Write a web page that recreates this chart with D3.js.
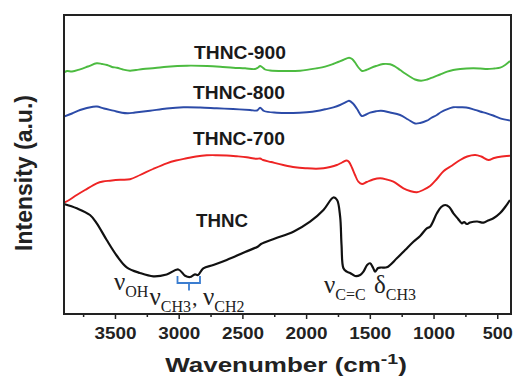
<!DOCTYPE html>
<html><head><meta charset="utf-8">
<script src="https://cdn.jsdelivr.net/npm/d3@7"></script>
<style>body{margin:0;background:#fff}svg{display:block}</style>
</head><body>
<svg id="c" width="515" height="376"></svg>
<script>
// [wavenumber (cm-1), intensity (a.u.)]
const thnc = [[3900,110],[3800,105.7],[3696,99],[3643,90.7],[3565,74],[3484,58],[3408,46.7],[3303,41],[3199,37.7],[3094,39.5],[3003,44.5],[2950,38.3],[2911,37],[2872,39.7],[2848,39],[2807,45.7],[2728,49],[2623,54],[2479,62],[2377,67.5],[2354,70],[2244,75.5],[2100,82.3],[1969,92.3],[1864,104],[1786,116.5],[1757,114],[1733,97.3],[1722,69],[1707,45.7],[1681,42.3],[1655,41],[1616,38],[1576,39],[1550,42.3],[1521,49],[1498,50.7],[1474,46],[1459,42.3],[1435,46],[1412,46.5],[1367,46.7],[1288,55.7],[1223,64],[1158,72.3],[1105,78],[1053,85.7],[1027,87.3],[974,100.7],[940,107],[909,109],[877,107],[844,100.7],[807,95],[778,90.7],[760,92],[739,90],[713,91.5],[658,92.5],[608,91.3],[572,93.5],[530,95.7],[477,101],[438,107],[400,114]];
const thnc700 = [[3900,111.3],[3853,114.5],[3800,119],[3735,124],[3643,130.7],[3594,132.5],[3539,133.3],[3460,134.2],[3382,134.7],[3303,139],[3201,145],[3094,150.7],[3021,153.5],[2937,155.7],[2864,157.5],[2780,158.7],[2701,158.8],[2623,158.5],[2544,157.7],[2466,156.7],[2393,155.2],[2361,155.5],[2338,154],[2275,152],[2179,149],[2087,146.7],[1995,145.7],[1922,145.3],[1864,145.7],[1812,147],[1759,149],[1718,151.5],[1681,153.5],[1663,152],[1639,146],[1616,139],[1590,132.3],[1561,130],[1524,132],[1475,134.5],[1419,135.7],[1367,134.5],[1315,132.3],[1236,125.7],[1184,123],[1131,121.7],[1082,124],[1027,128],[974,135],[922,142.8],[854,148.5],[791,154],[736,157.5],[673,159],[626,157.5],[569,154],[524,156],[477,157.3],[400,158.3]];
const thnc800 = [[3900,197.3],[3837,200.5],[3774,204],[3672,207.3],[3641,207.5],[3586,205.5],[3513,203.3],[3445,201.2],[3398,200.7],[3343,201.5],[3225,203.3],[3094,205.5],[2963,206.7],[2832,206.5],[2701,205.7],[2573,205],[2440,204],[2385,203.5],[2361,206.3],[2330,203],[2230,201.3],[2102,201],[1995,201.8],[1916,203],[1851,204.7],[1786,206.7],[1734,209],[1681,212.3],[1663,213.3],[1632,210.5],[1600,205],[1563,198],[1529,199.5],[1498,201.3],[1451,202.7],[1412,203.2],[1341,201.5],[1262,199],[1200,194.5],[1145,190.5],[1105,191],[1053,193.3],[1019,196],[974,199],[940,202],[896,204.7],[846,206.8],[791,206.7],[744,206.5],[687,204.7],[635,202.5],[582,200.7],[532,198.5],[477,195.7],[400,193.5]];
const thnc900 = [[3900,241.5],[3876,243],[3837,242.5],[3774,244.7],[3712,247.5],[3643,250.7],[3602,250],[3562,249],[3523,247],[3484,246.3],[3437,244.5],[3382,243.3],[3335,244],[3280,245],[3186,246],[3091,247.3],[2934,248.3],[2777,248],[2675,247.3],[2573,246.3],[2479,245.7],[2401,245],[2377,246.5],[2361,248],[2346,247],[2322,244.5],[2283,243.5],[2181,243],[2047,243.3],[1914,245.7],[1851,247.3],[1788,250],[1749,252],[1710,254],[1663,256.3],[1639,255],[1616,251.5],[1592,247],[1561,243],[1529,244],[1498,245.7],[1451,248],[1396,250],[1341,249.7],[1302,247.5],[1262,244],[1223,240.5],[1184,237.3],[1145,234.5],[1098,233.3],[1050,234.5],[1004,236.7],[949,239.5],[893,242.3],[846,244],[791,245],[690,245.7],[635,245.5],[579,245],[525,245.5],[477,246.3],[438,249],[400,253]];
const seriesNames = ["THNC","THNC-700","THNC-800","THNC-900"];
const xTicks = [3500,3000,2500,2000,1500,1000,500];
const xMinorTicks = [3750,3250,2750,2250,1750,1250,750];

const svg = d3.select("#c");
const M = {l:64, r:510, t:15, b:314};
const x = d3.scaleLinear().domain([3900,400]).range([M.l, M.r]);
const y = d3.scaleLinear().domain([0,299]).range([M.b, M.t]);

const series = [
  {name:seriesNames[0], data:thnc, color:"#111111", w:2.2, lab:[222,226.5], tl:52},
  {name:seriesNames[1], data:thnc700, color:"#ee2424", w:1.9, lab:[239,145], tl:92},
  {name:seriesNames[2], data:thnc800, color:"#2c4ba8", w:1.9, lab:[239,99], tl:92},
  {name:seriesNames[3], data:thnc900, color:"#4cbb40", w:1.9, lab:[240,59.3], tl:92}
];
const line = d3.line().x(d=>x(d[0])).y(d=>y(d[1])).curve(d3.curveCatmullRom.alpha(0.5));
svg.append("g").selectAll("path").data(series).join("path")
  .attr("d", d=>line(d.data)).attr("fill","none")
  .attr("stroke", d=>d.color).attr("stroke-width", d=>d.w).attr("stroke-linejoin","round");

// series labels
svg.append("g").selectAll("text").data(series).join("text")
  .attr("x", d=>d.lab[0]).attr("y", d=>d.lab[1]).attr("text-anchor","middle")
  .attr("font-family","Liberation Sans, Arial, sans-serif").attr("font-weight","bold")
  .attr("font-size",17.5).attr("fill","#1a1a1a")
  .attr("textLength", d=>d.tl).attr("lengthAdjust","spacingAndGlyphs")
  .text(d=>d.name);

// axis
const ax = d3.axisBottom(x).tickValues(xTicks).tickSize(5).tickFormat(d3.format("d"));
const g = svg.append("g").attr("transform",`translate(0,${M.b})`).call(ax);
g.select(".domain").remove();
g.selectAll(".tick line").attr("stroke","#222").attr("stroke-width",1.5);
g.selectAll(".tick text").attr("y",25).attr("dy",0)
  .attr("font-family","Liberation Sans, Arial, sans-serif").attr("font-weight","bold")
  .attr("font-size",16).attr("fill","#222")
  .attr("textLength", d=> d>=1000 ? 42 : 30).attr("lengthAdjust","spacingAndGlyphs");
const gm = svg.append("g").attr("transform",`translate(0,${M.b})`)
  .call(d3.axisBottom(x).tickValues(xMinorTicks).tickSize(3).tickFormat(""));
gm.select(".domain").remove();
gm.selectAll(".tick line").attr("stroke","#222").attr("stroke-width",1.5);

// frame
svg.append("rect").attr("x",M.l).attr("y",M.t).attr("width",M.r-M.l+1).attr("height",M.b-M.t)
  .attr("fill","none").attr("stroke","#222").attr("stroke-width",2);

// axis titles
const xt = svg.append("text").attr("x",0).attr("y",0)
  .attr("font-family","Liberation Sans, Arial, sans-serif").attr("font-weight","bold")
  .attr("font-size",20).attr("fill","#222").attr("text-anchor","middle")
  .attr("transform",`translate(286,372) scale(1.3,1)`);
xt.append("tspan").text("Wavenumber (cm");
xt.append("tspan").attr("font-size",15).attr("dy",-8).text("-1");
xt.append("tspan").attr("dy",8).text(")");

svg.append("text").attr("transform","translate(32,173) rotate(-90)")
  .attr("text-anchor","middle").attr("font-family","Liberation Sans, Arial, sans-serif")
  .attr("font-weight","bold").attr("font-size",23).attr("fill","#222")
  .text("Intensity (a.u.)");

// annotations
const ann = [
  {g:"ν", s:"OH", x:114, y:290},
  {g:"ν", s:"CH3", x:149.5, y:305},
  {g:"ν", s:"CH2", x:203, y:305},
  {g:"ν", s:"C=C", x:324, y:293},
  {g:"δ", s:"CH3", x:374, y:293}
];
const ag = svg.append("g").attr("font-family","Liberation Serif, Times New Roman, serif").attr("fill","#222");
ann.forEach(a=>{
  const t = ag.append("text").attr("x",a.x).attr("y",a.y);
  t.append("tspan").attr("font-size",25).text(a.g);
  t.append("tspan").attr("font-size",16).attr("dy",7).text(a.s);
});
ag.append("text").attr("x",192).attr("y",305).attr("font-size",22).text(",");

// bracket
svg.append("path").attr("d","M177.5,276V283H200V276M189,283V290.5")
  .attr("fill","none").attr("stroke","#3b7dd0").attr("stroke-width",1.8);
</script>
</body></html>
